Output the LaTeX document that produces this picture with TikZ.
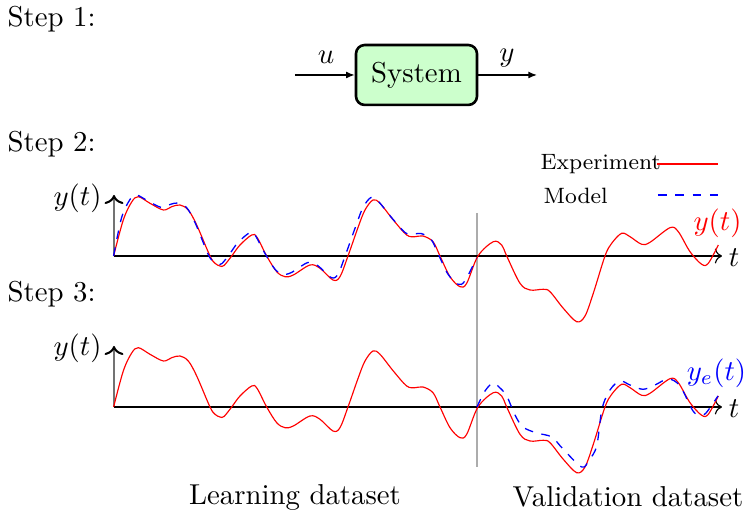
\documentclass[tikz,border=0pt]{standalone}
\usetikzlibrary{arrows.meta}

% measured output of the experiment and of the identified model
\def\expcurve{plot[smooth,tension=0.55] coordinates {
  (113.6,0) (123.3,-36) (131.7,-54) (138.3,-59.3) (150,-52.7) (163.3,-46)
  (171.7,-49.3) (180,-51) (188.3,-46) (196.7,-31) (210,0) (215,7.3) (220,10)
  (224,9.5) (231.7,0) (240,-11) (251.7,-21) (257,-18.7) (266.7,0) (276.7,15.7)
  (285,20.7) (293.3,19) (310,9) (320,12.3) (333,24) (340,20.7) (348,0)
  (358.3,-29.3) (365,-46) (373,-56) (380,-52.7) (393.3,-36) (406.7,-21)
  (415,-19.3) (423,-20) (433,-14.3) (440,0) (450,20.7) (460,30.7) (466.7,27.3)
  (478,0) (493.3,-14.3) (501.7,-11) (506.7,0) (520,27.3) (530,34) (543.3,33.3)
  (550,35.7) (563.3,52.3) (576.7,65.7) (585,60) (593.3,37.3) (605,0)
  (611.7,-12.7) (621.7,-22.7) (630,-19.3) (641.7,-11.7) (650,-13.7) (670,-28.3)
  (678.3,-24.3) (690,-4.3) (701.7,8.3) (708.3,7.3) (718.3,-11)}}
\def\learncurve{plot[smooth,tension=0.55] coordinates {
  (113.6,0) (121.5,-38) (130,-56.5) (136.5,-61) (148,-55) (161.5,-48.5)
  (170,-51.5) (178,-53) (186.5,-48.5) (195,-33.5) (208,-2) (213,5) (218,8)
  (222,7.5) (230,-2.5) (238,-13.5) (250,-23.5) (255,-21) (265,-2.5) (275,13.2)
  (283,18.2) (291.5,16.5) (308,6.5) (318,9.8) (331,21.5) (338,18.2) (346,-2.5)
  (356.5,-31.8) (363,-48.5) (371,-58.5) (378,-55) (391.5,-38.5) (405,-23.5)
  (413,-21.8) (421,-22.5) (431,-16.8) (438,-2.5) (448,18.2) (458,28.2)
  (465,24.8) (476.5,2)}}
\def\validcurve{plot[smooth,tension=0.55] coordinates {
  (477,0) (485,-16) (493,-24) (499,-20) (506.7,-11) (515,8) (523,20)
  (536.7,26) (551.7,30) (563,42) (581.7,60) (589,53) (596.7,39) (602,2)
  (610,-17) (620,-26) (630,-22) (643,-17.7) (655,-22) (668.3,-28) (680,-21)
  (693,4) (700,8) (706,6) (718,-11)}}

\begin{document}
\begin{tikzpicture}[x=0.3472pt,y=-0.3472pt,
  txt/.style={inner sep=0pt},
  steplabel/.style={inner sep=0pt,anchor=west},
  legtext/.style={inner sep=0pt,anchor=west,font=\fontsize{7.7}{9}\selectfont},
  sysbox/.style={draw,line width=0.9pt,rounded corners=3pt,fill=green!20,
    minimum width=42pt,minimum height=20.8pt,inner sep=0pt},
  sig/.style={-{Latex[length=3pt,width=2.4pt]},line width=0.45pt},
  taxis/.style={->,black,line width=0.4pt},
  yaxis/.style={-{To[black]},black!55,line width=0.7pt},
  exp/.style={red,line width=0.4pt},
  mdl/.style={blue,dashed,line width=0.45pt},
  sep/.style={gray!65,line width=0.5pt}]
\useasboundingbox (0,0) rectangle (745,519);

% step 1: the system
\node[steplabel] (s1) at (7,19) {Step 1:};
\node[sysbox] (sys) at (416.5,75) {System};
\coordinate (uin) at (295,75);
\coordinate (yout) at (537,75);
\draw[sig] (uin) -- (sys);
\draw[sig] (sys) -- (yout);
\node[txt] (ulbl) at (326,57) {$u$};
\node[txt] (ylbl) at (507,58) {$y$};

% boundary between learning and validation data
\coordinate (septop) at (477,213);
\coordinate (sepbot) at (477,467);
\draw[sep] (septop) -- (sepbot);

% step 2: learning
\node[steplabel] (s2) at (7,144) {Step 2:};
\node[legtext] (legexp) at (540,164) {Experiment};
\node[legtext] (legmdl) at (543,196) {Model};
\coordinate (le1) at (657,164);
\coordinate (le2) at (718,164);
\coordinate (lm1) at (658,195);
\coordinate (lm2) at (718,195);
\draw[exp] (le1) -- (le2);
\draw[mdl] (lm1) -- (lm2);

\begin{scope}[shift={(0,256)}]
  \coordinate (o2) at (114,0);
  \coordinate (t2) at (722,0);
  \coordinate (y2) at (114,-61);
  \draw[yaxis] (o2) -- (y2);
  \draw[taxis] (o2) -- (t2);
  \draw[exp] \expcurve;
  \draw[mdl] \learncurve;
  \node[txt] (ylab2) at (77.5,-58) {$y(t)$};
  \node[txt,red] (yexp) at (717.5,-33) {$y(t)$};
  \node[txt] (tlab2) at (734,2) {$t$};
\end{scope}

% step 3: validation
\node[steplabel] (s3) at (7,294) {Step 3:};
\begin{scope}[shift={(0,407)}]
  \coordinate (o3) at (114,0);
  \coordinate (t3) at (722,0);
  \coordinate (y3) at (114,-61);
  \draw[yaxis] (o3) -- (y3);
  \draw[taxis] (o3) -- (t3);
  \draw[exp] \expcurve;
  \draw[mdl] \validcurve;
  \node[txt] (ylab3) at (77.5,-59) {$y(t)$};
  \node[txt,blue] (yest) at (716.5,-34) {$y_e(t)$};
  \node[txt] (tlab3) at (734,2) {$t$};
\end{scope}

\node[txt] (learn) at (295,497) {Learning dataset};
\node[txt] (valid) at (628,497) {Validation dataset};
\end{tikzpicture}
\end{document}
